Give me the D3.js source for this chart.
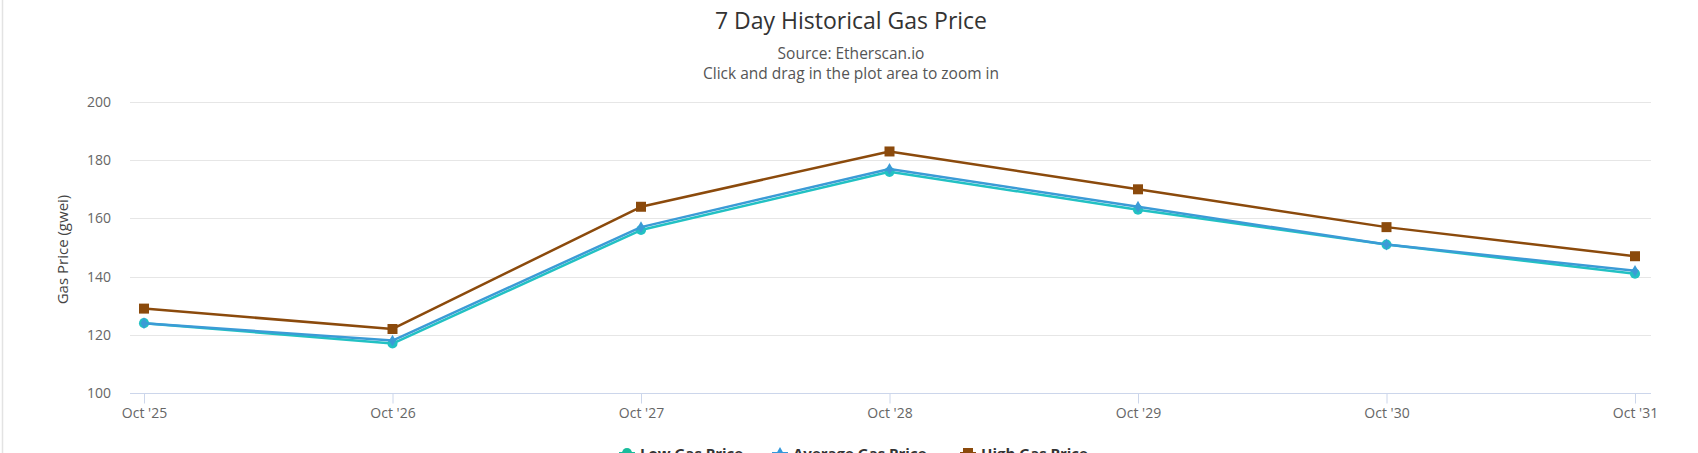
<!DOCTYPE html>
<html><head><meta charset="utf-8">
<script src="https://cdn.jsdelivr.net/npm/d3@7"></script>
<style>body{margin:0;background:#fff;}svg{display:block;font-family:"Open Sans",sans-serif;}</style>
</head><body><svg id="c" width="1698" height="453"></svg>
<script>
const categories = ["Oct '25","Oct '26","Oct '27","Oct '28","Oct '29","Oct '30","Oct '31"];
const lowValues = [124,117,156,176,163,151,141];
const avgValues = [124,118,157,177,164,151,142];
const highValues = [129,122,164,183,170,157,147];
const yTicks = [100,120,140,160,180,200];
const seriesNames = ["Low Gas Price","Average Gas Price","High Gas Price"];

const series = [
  {name:seriesNames[0], values:lowValues, color:"#22c1c3", sym:d3.symbolCircle, size:80, legendColor:"#1abc9c"},
  {name:seriesNames[1], values:avgValues, color:"#3b9bd6", sym:d3.symbolDiamond, size:40, legendColor:"#3498db"},
  {name:seriesNames[2], values:highValues, color:"#8b4a0c", sym:d3.symbolSquare, size:100, legendColor:"#8b4a0c"}
];
const drawOrder = [0,1,2];

const svg = d3.select("#c");
const W=1698, H=453;
const plotL=130, plotR=1651, plotT=102, plotB=393;

svg.append("line").attr("x1",2.5).attr("x2",2.5).attr("y1",0).attr("y2",H).attr("stroke","#e3e3e3").attr("stroke-width",1.5);

const x = d3.scalePoint().domain(categories).range([144,1635]);
const y = d3.scaleLinear().domain([100,200]).range([plotB,plotT]);

// grid
svg.append("g").selectAll("line").data(yTicks.filter(t=>t!==100)).join("line")
  .attr("x1",plotL).attr("x2",plotR).attr("y1",d=>Math.round(y(d))+0.5).attr("y2",d=>Math.round(y(d))+0.5)
  .attr("stroke","#e6e6e6").attr("stroke-width",1);

// y labels
const yAxis = d3.axisLeft(y).tickValues(yTicks).tickSize(0).tickPadding(0);
const gy = svg.append("g").attr("transform",`translate(${plotL-19},0)`).call(yAxis);
gy.select(".domain").remove();
gy.selectAll("text").attr("font-size",14).attr("fill","#666").attr("font-family","Open Sans");

// x axis
const xAxis = d3.axisBottom(x).tickSize(10).tickPadding(5);
const gx = svg.append("g").attr("transform",`translate(0,${plotB+0.5})`).call(xAxis);
gx.select(".domain").attr("d",`M${plotL},0H${plotR}`).attr("stroke","#ccd6eb");
gx.selectAll(".tick line").attr("stroke","#ccd6eb");
gx.selectAll("text").attr("font-size",14).attr("fill","#666").attr("font-family","Open Sans");

// y title
svg.append("text").attr("transform",`translate(68,${(plotT+plotB)/2+2}) rotate(-90)`)
  .attr("text-anchor","middle").attr("font-size",15).attr("fill","#444").text("Gas Price (gwei)");

// titles
svg.append("text").attr("x",851).attr("y",29).attr("text-anchor","middle").attr("font-size",23).attr("fill","#333").text("7 Day Historical Gas Price");
svg.append("text").attr("x",851).attr("y",59).attr("text-anchor","middle").attr("font-size",15.5).attr("fill","#555").text("Source: Etherscan.io");
svg.append("text").attr("x",851).attr("y",79).attr("text-anchor","middle").attr("font-size",15.5).attr("fill","#555").text("Click and drag in the plot area to zoom in");

// lines
const line = d3.line().x((d,i)=>x(categories[i])).y(d=>y(d));
drawOrder.forEach(k=>{
  const s = series[k];
  svg.append("path").datum(s.values).attr("d",line).attr("fill","none").attr("stroke",s.color).attr("stroke-width",2.5).attr("stroke-linejoin","round");
  svg.append("g").selectAll("path").data(s.values).join("path")
    .attr("transform",(d,i)=>`translate(${x(categories[i])},${y(d)})`)
    .attr("d",d3.symbol().type(s.sym).size(s.size)).attr("fill",s.color);
});

// legend
const lg = svg.append("g").attr("font-size",15).attr("font-weight","bold").attr("fill","#333");
const legendX = [619, 772, 960];
series.forEach((s,i)=>{
  const g = lg.append("g").attr("transform",`translate(${legendX[i]},453)`);
  g.append("line").attr("x1",0).attr("x2",16).attr("y1",0).attr("y2",0).attr("stroke",s.legendColor).attr("stroke-width",2);
  g.append("path").attr("transform","translate(8,0)").attr("d",d3.symbol().type(s.sym).size(s.size)).attr("fill",s.legendColor);
  g.append("text").attr("x",21).attr("y",6).text(s.name);
});
</script></body></html>
